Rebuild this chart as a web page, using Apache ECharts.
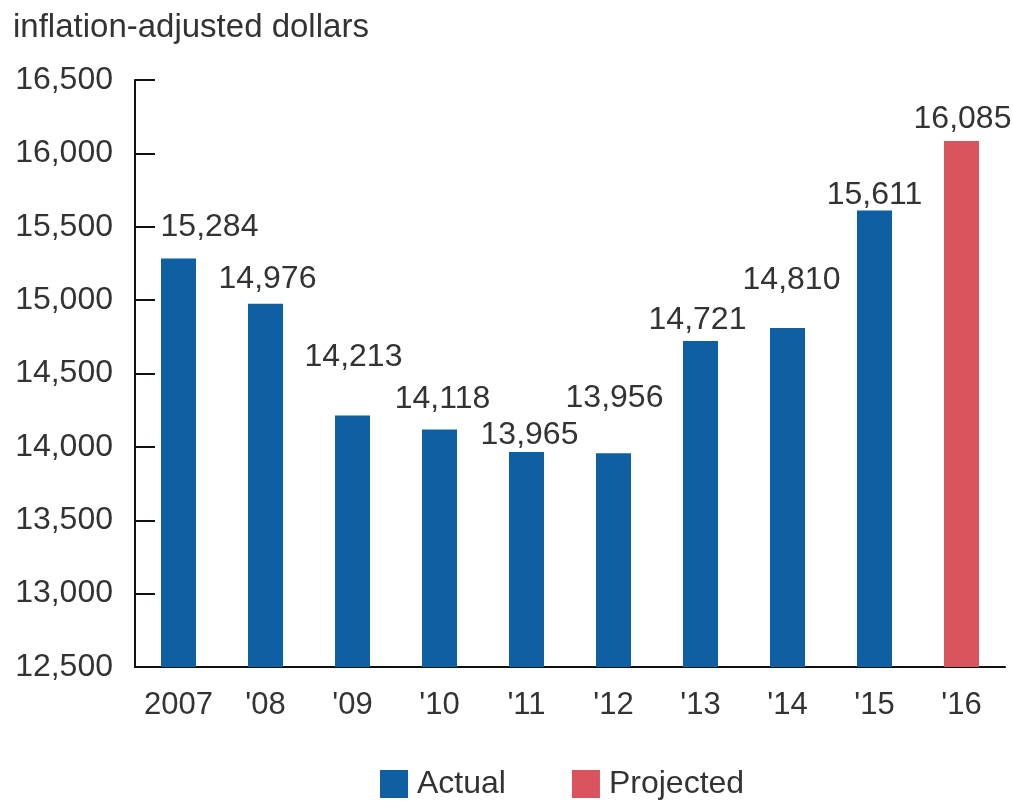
<!DOCTYPE html>
<html lang="en">
<head>
  <meta charset="UTF-8">
  <title>inflation-adjusted dollars</title>
  <script src="https://cdn.jsdelivr.net/npm/echarts@6/dist/echarts.min.js"></script>
  <style>
    * { padding: 0; margin: 0; }
    #box { width: 1013px; height: 806px; background: #fff; }
  </style>
</head>
<body>
  <div id="box"></div>
  <script>
    // years and values
    var years = ['2007', "'08", "'09", "'10", "'11", "'12", "'13", "'14", "'15", "'16"]
    var actual = [15284, 14976, 14213, 14118, 13965, 13956, 14721, 14810, 15611, null]
    var projected = [null, null, null, null, null, null, null, null, null, 16085]
    // label nudges (the original places them by hand)
    var labelDx = [31, 2, 1, 3, 3, 1, -3, 4, 0, 1]
    var labelDy = [-18, -11, -45, -17, -4, -42, -8, -35, -2, -9]

    var txt = '#333'
    var font = 'Liberation Sans, Arial, sans-serif'

    function withLabels(arr) {
      return arr.map(function (v, i) {
        if (v == null) return null
        return { value: v, label: { offset: [labelDx[i], labelDy[i]] } }
      })
    }

    var mCharts = echarts.init(document.getElementById('box'))
    var option = {
      animation: false,
      textStyle: { fontFamily: font },
      title: {
        text: 'inflation-adjusted dollars',
        left: 8, top: 6,
        textStyle: { fontSize: 33, fontWeight: 'normal', color: txt, fontFamily: font }
      },
      grid: { left: 135, right: 8, top: 80, bottom: 139 },
      legend: {
        bottom: 1,
        left: 375,
        itemWidth: 28, itemHeight: 28, itemGap: 66,
        icon: 'rect',
        textStyle: { fontSize: 32, color: txt, fontFamily: font, padding: [0, 0, 0, 4] },
        data: ['Actual', 'Projected']
      },
      xAxis: {
        type: 'category',
        data: years,
        axisLine: { lineStyle: { color: '#111', width: 2 } },
        axisTick: { inside: true, length: 16, lineStyle: { color: '#111', width: 2 } },
        axisLabel: { interval: 0, fontSize: 31, color: txt, margin: 23, fontFamily: font }
      },
      yAxis: {
        type: 'value',
        min: 12500, max: 16500, interval: 500,
        axisLine: { show: true, lineStyle: { color: '#111', width: 2 } },
        axisTick: { show: true, inside: true, length: 20, lineStyle: { color: '#111', width: 2 } },
        splitLine: { show: false },
        axisLabel: {
          fontSize: 32, color: txt, margin: 22, fontFamily: font,
          formatter: function (v) { return v.toLocaleString('en-US') }
        }
      },
      series: [{
        name: 'Actual',
        type: 'bar',
        barWidth: 35,
        barGap: '-100%',
        itemStyle: { color: '#0f5fa3' },
        label: {
          show: true, position: 'top', distance: 0,
          fontSize: 32, color: txt, lineHeight: 26, fontFamily: font,
          formatter: function (p) { return p.value.toLocaleString('en-US') }
        },
        data: withLabels(actual)
      }, {
        name: 'Projected',
        type: 'bar',
        barWidth: 35,
        barGap: '-100%',
        itemStyle: { color: '#d9545c' },
        label: {
          show: true, position: 'top', distance: 0,
          fontSize: 32, color: txt, lineHeight: 26, fontFamily: font,
          formatter: function (p) { return p.value.toLocaleString('en-US') }
        },
        data: withLabels(projected)
      }]
    }
    mCharts.setOption(option)
  </script>
</body>
</html>
